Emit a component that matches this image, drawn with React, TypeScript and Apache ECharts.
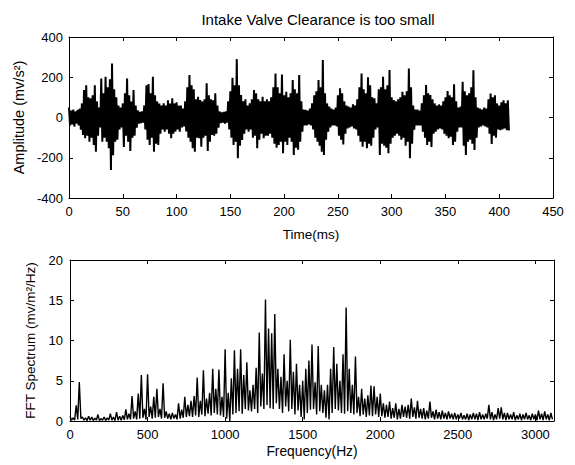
import React, { useEffect, useRef } from "react";
import * as echarts from "echarts";

// Time signal envelope, 2 ms bins: positive extreme (even ms) and negative extreme (odd ms)
const timeUpper = [
  50, 35, 40, 30, 38, 45, 70, 136, 160, 100,
  95, 110, 160, 80, 50, 194, 120, 202, 150, 190,
  268, 140, 100, 60, 50, 70, 120, 194, 110, 80,
  136, 60, 35, 28, 30, 60, 160, 166, 120, 202,
  110, 80, 70, 60, 70, 60, 86, 70, 95, 70,
  75, 60, 60, 45, 80, 150, 211, 160, 140, 90,
  103, 87, 80, 90, 170, 110, 90, 85, 120, 60,
  30, 25, 28, 30, 80, 130, 198, 160, 290, 160,
  112, 80, 90, 60, 70, 90, 136, 120, 90, 80,
  103, 80, 90, 80, 100, 150, 219, 150, 120, 214,
  110, 128, 100, 120, 186, 140, 120, 211, 80, 40,
  38, 35, 45, 70, 110, 130, 186, 150, 286, 120,
  70, 54, 45, 40, 50, 110, 145, 120, 80, 60,
  55, 50, 65, 60, 90, 150, 219, 140, 120, 200,
  160, 100, 95, 70, 140, 150, 203, 140, 160, 236,
  100, 87, 80, 90, 100, 128, 110, 130, 244, 150,
  60, 40, 40, 35, 70, 110, 161, 120, 112, 90,
  70, 60, 65, 60, 80, 100, 132, 110, 100, 165,
  80, 50, 55, 177, 130, 110, 120, 150, 235, 100,
  50, 45, 40, 50, 45, 90, 119, 100, 110, 70,
  60, 75, 86, 70, 86,
];
const timeLower = [
  -40, -35, -45, -30, -40, -60, -87, -103, -90, -120,
  -100, -137, -170, -90, -50, -120, -100, -120, -153, -261,
  -187, -120, -110, -60, -50, -146, -90, -120, -166, -100,
  -90, -50, -30, -28, -25, -60, -110, -137, -100, -170,
  -130, -137, -80, -60, -70, -60, -80, -103, -80, -70,
  -60, -70, -50, -45, -70, -100, -120, -153, -170, -100,
  -103, -145, -100, -90, -166, -120, -87, -90, -80, -50,
  -28, -25, -30, -25, -60, -100, -137, -120, -203, -140,
  -112, -80, -60, -70, -60, -100, -90, -153, -110, -80,
  -103, -90, -90, -80, -100, -130, -150, -137, -120, -178,
  -120, -137, -100, -120, -186, -150, -160, -120, -70, -40,
  -40, -35, -40, -60, -100, -120, -140, -170, -186, -110,
  -70, -50, -40, -40, -45, -90, -110, -134, -80, -55,
  -50, -45, -55, -60, -90, -120, -145, -120, -153, -130,
  -140, -100, -60, -50, -186, -130, -140, -150, -178, -130,
  -100, -90, -80, -90, -110, -100, -140, -120, -203, -130,
  -60, -40, -40, -40, -70, -100, -137, -120, -146, -80,
  -70, -60, -55, -60, -80, -90, -103, -96, -137, -120,
  -70, -50, -50, -140, -186, -120, -110, -130, -162, -100,
  -50, -45, -40, -45, -50, -80, -132, -90, -100, -60,
  -63, -60, -55, -63, -65,
];

// FFT spectrum envelope, 20 Hz bins: peak value (at 20k Hz) and trough value (at 20k+10 Hz)
const fftUpper = [
  0.6, 0.4, 1.95, 4.85, 0.5, 0.4, 0.6, 0.5, 0.35, 0.8,
  0.3, 0.5, 0.4, 0.9, 0.5, 1.1, 0.6, 0.7, 1.45, 0.9,
  3.1, 1.2, 3.4, 5.7, 1.5, 5.8, 1.8, 3.0, 4.0, 1.5,
  4.7, 1.2, 0.9, 1.0, 0.8, 2.2, 1.4, 3.0, 2.0, 2.5,
  3.1, 5.4, 2.5, 6.3, 2.8, 3.5, 6.5, 4.0, 6.4, 3.0,
  8.9, 3.5, 5.3, 8.8, 6.5, 8.9, 5.7, 7.3, 3.8, 4.5,
  6.6, 11.0, 5.9, 15.1, 11.5, 10.9, 13.3, 6.5, 5.5, 8.3,
  5.0, 10.1, 6.1, 7.1, 4.5, 5.0, 6.5, 7.5, 9.5, 4.8,
  9.3, 4.5, 3.8, 4.5, 6.5, 9.2, 7.1, 5.0, 8.3, 14.1,
  6.5, 4.5, 8.0, 3.0, 4.0, 2.8, 3.2, 4.4, 4.3, 3.0,
  3.4, 2.2, 2.0, 2.4, 1.6, 2.2, 1.5, 2.0, 1.8, 2.0,
  2.8, 1.7, 2.5, 1.5, 1.6, 1.3, 2.4, 1.2, 1.4, 1.1,
  1.3, 1.0, 1.2, 0.9, 1.0, 0.8, 1.0, 0.7, 0.9, 0.8,
  1.0, 0.9, 1.1, 0.8, 0.9, 2.0, 1.1, 0.8, 1.6, 1.7,
  1.0, 1.0, 0.8, 1.1, 0.7, 0.9, 0.8, 1.0, 0.7, 0.9,
  0.8, 1.3, 0.9, 1.2, 0.8, 1.0,
];
const fftLower = [
  0.1, 0.1, 0.2, 0.3, 0.1, 0.05, 0.1, 0.05, 0.1, 0.05,
  0.1, 0.05, 0.1, 0.1, 0.05, 0.1, 0.1, 0.15, 0.2, 0.2,
  0.3, 0.2, 0.3, 0.4, 0.2, 0.5, 0.3, 0.4, 0.5, 0.3,
  0.4, 0.3, 0.2, 0.3, 0.2, 0.3, 0.4, 0.5, 0.6, 0.5,
  0.7, 0.5, 0.8, 0.6, 0.9, 0.7, 1.0, 0.8, 0.7, 0.5,
  0.3, 0.0, 0.8, 1.0, 1.2, 0.9, 1.5, 1.3, 1.2, 1.5,
  1.0, 1.8, 1.5, 2.0, 1.6, 1.5, 2.2, 1.5, 1.0, 1.8,
  1.2, 1.5, 0.8, 1.3, 0.5, 0.2, 1.0, 1.4, 1.5, 0.8,
  1.2, 1.0, 0.4, 0.2, 1.0, 1.5, 1.3, 1.0, 0.9, 1.2,
  1.0, 0.8, 1.0, 0.6, 0.8, 0.5, 0.7, 0.6, 0.8, 0.5,
  0.6, 0.4, 0.5, 0.3, 0.4, 0.2, 0.3, 0.5, 0.4, 0.3,
  0.5, 0.3, 0.4, 0.3, 0.2, 0.3, 0.4, 0.2, 0.3, 0.2,
  0.3, 0.2, 0.3, 0.2, 0.2, 0.3, 0.2, 0.2, 0.1, 0.2,
  0.2, 0.1, 0.2, 0.2, 0.3, 0.2, 0.1, 0.2, 0.3, 0.2,
  0.1, 0.2, 0.2, 0.1, 0.2, 0.1, 0.2, 0.2, 0.1, 0.2,
  0.1, 0.2, 0.1, 0.2, 0.1, 0.2,
];

const TITLE = "Intake Valve Clearance is too small";
const TIME_NAME = "Time(ms)";
const AMP_NAME = "Amplitude (mv/s²)";
const FREQ_NAME = "Frequency(Hz)";
const FFT_NAME = "FFT Spectrum (mv/m²/Hz)";

export default function App() {
  const ref = useRef<HTMLDivElement>(null);
  useEffect(() => {
    const chart = echarts.init(ref.current!, null, { renderer: "svg" });
    const sig: number[][] = [];
    timeUpper.forEach((u, i) => {
      sig.push([2 * i, u]);
      sig.push([2 * i + 1, timeLower[i]]);
    });
    const fft: number[][] = [];
    fftUpper.forEach((u, i) => {
      fft.push([20 * i, u]);
      fft.push([20 * i + 10, fftLower[i]]);
    });
    const font = "'Liberation Sans', Arial, sans-serif";
    const line = { show: true, onZero: false, lineStyle: { color: "#000", width: 1 } };
    const tick = { show: true, inside: true, length: 4, lineStyle: { color: "#000", width: 1 } };
    const label = { color: "#000", fontSize: 13, fontFamily: font };
    const nameStyle = (size: number) => ({ color: "#000", fontSize: size, fontFamily: font });
    const mirror = (o: any) => ({
      ...o,
      name: "",
      axisLabel: { show: false },
    });
    const x0 = {
      type: "value", gridIndex: 0, min: 0, max: 450, interval: 50, position: "bottom",
      axisLine: line, axisTick: tick, splitLine: { show: false },
      axisLabel: { ...label, margin: 7 },
      name: TIME_NAME, nameLocation: "middle", nameGap: 29, nameTextStyle: nameStyle(13.5),
    };
    const x2 = {
      type: "value", gridIndex: 1, min: 0, max: 3120, interval: 500, position: "bottom",
      axisLine: line, axisTick: tick, splitLine: { show: false },
      axisLabel: { ...label, margin: 7, formatter: (v: number) => (v % 500 === 0 ? String(v) : "") },
      name: FREQ_NAME, nameLocation: "middle", nameGap: 23, nameTextStyle: nameStyle(13.8),
    };
    const y0 = {
      type: "value", gridIndex: 0, min: -400, max: 400, interval: 200, position: "left",
      axisLine: line, axisTick: tick, splitLine: { show: false },
      axisLabel: { ...label, margin: 6 },
      name: AMP_NAME, nameLocation: "middle", nameGap: 31, nameTextStyle: nameStyle(14.5),
    };
    const y2 = {
      type: "value", gridIndex: 1, min: 0, max: 20, interval: 5, position: "left",
      axisLine: line, axisTick: tick, splitLine: { show: false },
      axisLabel: { ...label, margin: 7 },
      name: FFT_NAME, nameLocation: "middle", nameGap: 20, nameTextStyle: nameStyle(13.5),
    };
    chart.setOption({
      animation: false,
      backgroundColor: "#fff",
      title: {
        text: TITLE, left: 313, top: 7, textAlign: "center",
        textStyle: { color: "#000", fontSize: 15, fontWeight: "normal", fontFamily: font },
      },
      grid: [
        { left: 69, top: 37, width: 484, height: 161 },
        { left: 70, top: 260, width: 484, height: 161 },
      ],
      xAxis: [x0, mirror({ ...x0, position: "top" }), x2, mirror({ ...x2, position: "top" })],
      yAxis: [y0, mirror({ ...y0, position: "right" }), y2, mirror({ ...y2, position: "right" })],
      series: [
        {
          type: "line", xAxisIndex: 0, yAxisIndex: 0, data: sig, showSymbol: false, silent: true,
          lineStyle: { color: "#000", width: 2 },
        },
        {
          type: "line", xAxisIndex: 2, yAxisIndex: 2, data: fft, showSymbol: false, silent: true,
          lineStyle: { color: "#000", width: 1.4 },
        },
      ],
    });
    return () => chart.dispose();
  }, []);
  return (
    <div
      ref={ref}
      style={{ position: "absolute", left: 0, top: 0, width: 575, height: 465, background: "#fff" }}
    />
  );
}
